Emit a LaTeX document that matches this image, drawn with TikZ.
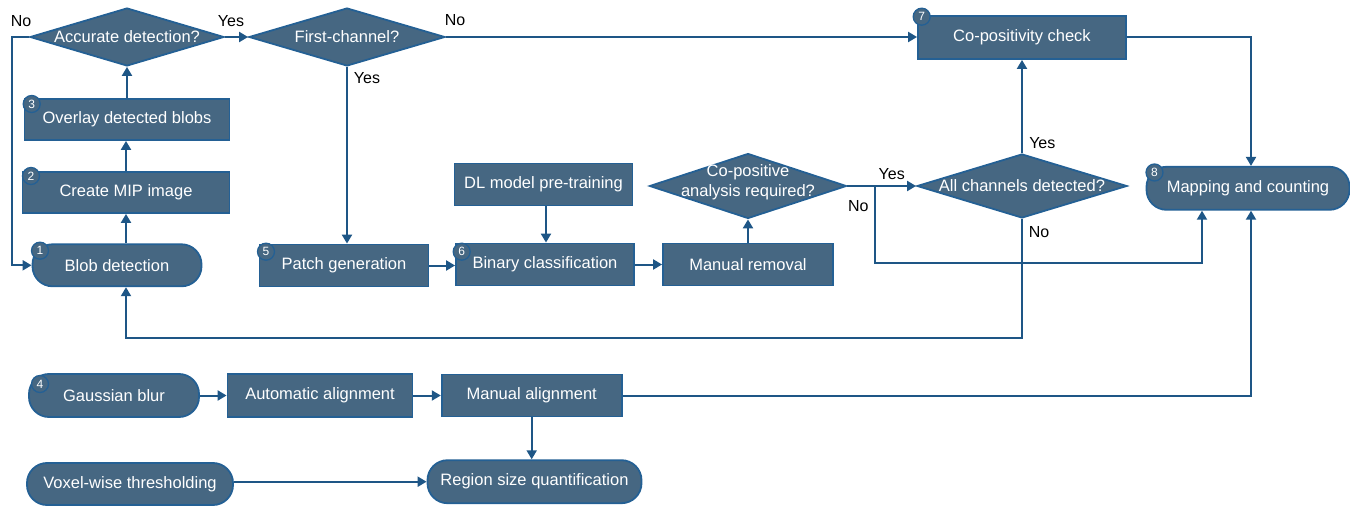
\documentclass[tikz,border=0pt]{standalone}
\usepackage{fontspec}
\setmainfont{Liberation Sans}
\usetikzlibrary{shapes.geometric,arrows.meta,calc}
\definecolor{boxfill}{RGB}{70,103,130}
\definecolor{boxline}{RGB}{36,96,148}
\definecolor{linecol}{RGB}{30,86,134}
\begin{document}
\begin{tikzpicture}[x=1pt,y=-1pt,
  every node/.style={font=\fontsize{16.5}{20}\selectfont},
  proc/.style={draw=boxline, fill=boxfill, line width=1.8pt, text=white, inner sep=0pt, minimum height=42pt},
  term/.style={proc, rounded corners=20pt},
  dia/.style={draw=boxline, fill=boxfill, line width=1.8pt, shape=diamond, inner sep=0pt},
  dtext/.style={text=white, inner sep=0pt, align=center},
  num/.style={circle, draw=boxline, fill=boxfill, line width=1.3pt, text=white, inner sep=0pt, minimum size=17pt, font=\fontsize{12}{12}\selectfont},
  lab/.style={text=black, inner sep=0pt, font=\fontsize{16}{18}\selectfont},
  conn/.style={draw=linecol, line width=2pt, -{Triangle[length=9pt,width=10pt]}},
  plainline/.style={draw=linecol, line width=2pt}]
\useasboundingbox (0,0) rectangle (1350,508);

% diamonds
\node[dia, minimum width=194pt, minimum height=58pt] (acc) at (127,37) {};
\node[dtext] (acct) at (acc.center) {Accurate detection?};
\node[dia, minimum width=196pt, minimum height=58pt] (fc) at (347,37) {};
\node[dtext] (fct) at (fc.center) {First-channel?};
\node[dia, minimum width=197pt, minimum height=65pt] (cop) at (748,186) {};
\node[dtext, font=\fontsize{16.5}{20}\selectfont] (copt) at (748,182) {Co-positive\\analysis required?};
\node[dia, minimum width=210pt, minimum height=64pt] (allc) at (1022,186) {};
\node[dtext] (allct) at (allc.center) {All channels detected?};

% boxes
\node[proc, minimum width=208pt, minimum height=43pt] (cpc) at (1022,37.5) {Co-positivity check};
\node[proc, minimum width=205pt, minimum height=41pt] (ovl) at (127,119.5) {Overlay detected blobs};
\node[proc, minimum width=207pt, minimum height=41pt] (mip) at (126,192.5) {Create MIP image};
\node[term, minimum width=169pt] (blob) at (117,265.3) {Blob detection};
\node[proc, minimum width=169pt] (patch) at (344,265.5) {Patch generation};
\node[proc, minimum width=178pt] (dl) at (543.5,184.5) {DL model pre-training};
\node[proc, minimum width=178pt] (bin) at (545,264.5) {Binary classification};
\node[proc, minimum width=170pt] (mr) at (748,264.5) {Manual removal};
\node[term, minimum width=203pt, minimum height=43pt] (map) at (1248,188.3) {Mapping and counting};
\node[term, minimum width=170pt, minimum height=43pt] (gau) at (114,395.5) {Gaussian blur};
\node[proc, minimum width=185pt, minimum height=43pt] (aut) at (320,395.5) {Automatic alignment};
\node[proc, minimum width=180pt, minimum height=42pt] (ma) at (531.7,395.5) {Manual alignment};
\node[term, minimum width=206pt, minimum height=42pt] (vox) at (130,484) {Voxel-wise thresholding};
\node[term, minimum width=214pt, minimum height=43pt] (reg) at (534.5,481.7) {Region size quantification};

% number badges
\node[num] (n1) at (40,250.7) {1};
\node[num] (n2) at (31,176) {2};
\node[num] (n3) at (31.7,104) {3};
\node[num] (n4) at (40,384) {4};
\node[num] (n5) at (266,251.7) {5};
\node[num] (n6) at (461.7,251.7) {6};
\node[num] (n7) at (921.7,16.7) {7};
\node[num] (n8) at (1154.5,172.5) {8};

% helper coordinates
\coordinate (accl) at (12,37);
\coordinate (nob) at (875,186);
\coordinate (noturn) at (1202,263);
\coordinate (allturn) at (126,338);

% connectors
\draw[conn] ([xshift=9pt]blob.north) -- (mip.south);
\draw[conn] (mip.north) -- (mip.north |- ovl.south);
\draw[conn] (ovl.north -| acc.south) -- (acc.south);
\draw[conn] (acc.west) -- (accl) |- (blob.west);
\draw[conn] (acc.east) -- (fc.west);
\draw[conn] (fc.east) -- (fc.east -| cpc.west);
\draw[conn] (fc.south) -- (fc.south |- patch.north);
\draw[conn] (patch.east) -- (patch.east -| bin.west);
\draw[conn] (dl.south -| 546,0) -- (bin.north -| 546,0);
\draw[conn] (bin.east) -- (mr.west);
\draw[conn] (mr.north) -- (cop.south);
\draw[conn] (cop.east) -- (allc.west);
\draw[conn] (nob) |- (noturn) -- ([xshift=-46pt]map.south);
\draw[conn] (allc.north) -- (cpc.south);
\draw[conn] (allc.south) |- (allturn) -- ([xshift=9pt]blob.south);
\draw[conn] (cpc.east) -| ([xshift=3pt]map.north);
\draw[conn] (ma.east) -| ([xshift=3pt]map.south);
\draw[conn] (gau.east) -- (aut.west);
\draw[conn] (aut.east) -- (ma.west);
\draw[conn] (ma.south) -- (ma.south |- reg.north);
\draw[conn] (vox.east |- reg.west) -- (reg.west);

% labels
\node[lab] (l1) at (21,21) {No};
\node[lab] (l2) at (231,21) {Yes};
\node[lab] (l3) at (455,20.5) {No};
\node[lab] (l4) at (367,78.3) {Yes};
\node[lab] (l5) at (891.7,174) {Yes};
\node[lab] (l6) at (858.3,206) {No};
\node[lab] (l7) at (1042.3,142.7) {Yes};
\node[lab] (l8) at (1039,231.7) {No};
\end{tikzpicture}
\end{document}
